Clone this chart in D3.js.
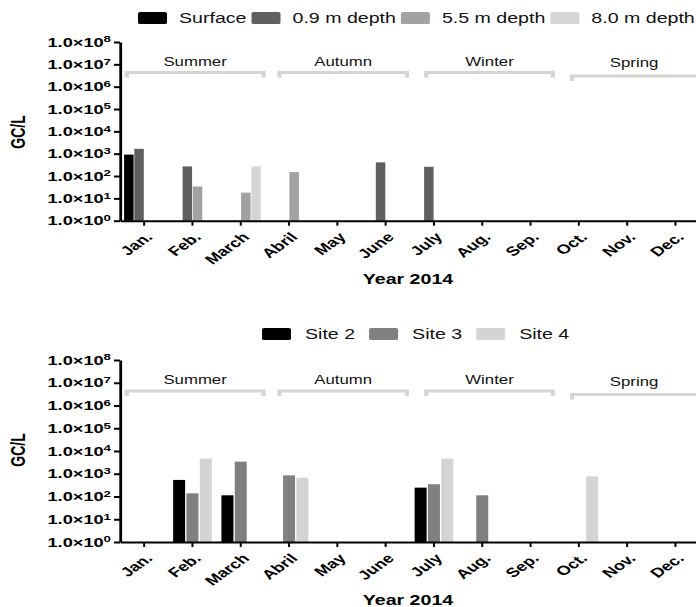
<!DOCTYPE html>
<html>
<head>
<meta charset="utf-8">
<script src="https://cdn.jsdelivr.net/npm/d3@7"></script>
<style>
  html, body { margin: 0; padding: 0; background: #fff; }
  svg { display: block; font-family: "Liberation Sans", Arial, sans-serif; }
</style>
</head>
<body>
<div id="chart"></div>
<script>
const months = ["Jan.", "Feb.", "March", "Abril", "May", "June", "July", "Aug.", "Sep.", "Oct.", "Nov.", "Dec."];
const seasons = ["Summer", "Autumn", "Winter", "Spring"];
// bracket extent of each season, in month units (0 = left edge of Jan.)
const seasonStart = [0.14, 3.30, 6.34, 9.36];
const seasonEnd = [2.97, 5.94, 8.96, 12.5];
const yTicks = [1, 1e1, 1e2, 1e3, 1e4, 1e5, 1e6, 1e7, 1e8];

// top panel: depths
const depthSeries = ["Surface", "0.9 m depth", "5.5 m depth", "8.0 m depth"];
const depthColors = ["#000000", "#606060", "#a2a2a5", "#d5d5d5"];
const surface   = [910, null, null, null, null, null, null, null, null, null, null, null];
const depth09   = [1650, 270, null, null, null, 410, 260, null, null, null, null, null];
const depth55   = [null, 34, 18, 150, null, null, null, null, null, null, null, null];
const depth80   = [null, null, 270, null, null, null, null, null, null, null, null, null];

// bottom panel: sites
const siteSeries = ["Site 2", "Site 3", "Site 4"];
const siteColors = ["#000000", "#808080", "#d4d4d4"];
const site2 = [null, 535, 113, null, null, null, 245, null, null, null, null, null];
const site3 = [null, 138, 3400, 850, null, null, 345, 113, null, null, null, null];
const site4 = [null, 4600, null, 670, null, null, 4600, null, null, 770, null, null];

const width = 696;
const height = 607;
const K = 1.4; // the figure is stretched horizontally
const W = width / K;

const svg = d3.select("#chart")
    .append("svg")
    .attr("width", width)
    .attr("height", height)
    .attr("viewBox", `0 0 ${W} ${height}`)
    .attr("preserveAspectRatio", "none");

const drawPanel = (cfg) => {
    const g = svg.append("g");
    const values = cfg.values;

    const x = d3.scaleBand()
        .domain(months)
        .range([120 / K, 699.6 / K]);
    const step = x.step();
    const x1 = d3.scaleBand()
        .domain(cfg.series)
        .range([step * (1 - cfg.groupFrac) / 2, step * (1 + cfg.groupFrac) / 2])
        .paddingInner(cfg.barGap);
    const y = d3.scaleLog()
        .domain([1, 1e8])
        .range([cfg.bottom, cfg.top]);
    const monthPos = d3.scaleLinear().domain([0, 12]).range(x.range());

    // legend
    const legend = g.append("g").attr("transform", `translate(${cfg.legendX / K}, ${cfg.legendY})`);
    let lx = 0;
    cfg.series.forEach((s, i) => {
        legend.append("rect")
            .attr("x", lx)
            .attr("y", -6)
            .attr("width", 29 / K)
            .attr("height", 12)
            .attr("rx", 1.5)
            .attr("fill", cfg.colors[i]);
        const t = legend.append("text")
            .attr("x", lx + cfg.textOffset / K)
            .attr("y", 0)
            .attr("dy", "0.35em")
            .attr("font-size", 14)
            .attr("fill", "#111")
            .text(s);
        lx += cfg.textOffset / K + t.node().getComputedTextLength() + cfg.itemGap / K;
    });

    // season brackets
    seasons.forEach((s, i) => {
        const x0 = monthPos(seasonStart[i]);
        const xe = monthPos(seasonEnd[i]);
        const drop = i === 3 ? 3.5 : 0;
        const by = cfg.bracketY + drop;
        g.append("path")
            .attr("d", `M${x0},${by + 5}V${by}H${xe}V${by + 5}`)
            .attr("fill", "none")
            .attr("stroke", "#d4d4d4")
            .attr("stroke-width", 3);
        const visEnd = Math.min(xe, W);
        g.append("text")
            .attr("x", (x0 + visEnd) / 2)
            .attr("y", by - 6.5 - drop * 0.6)
            .attr("text-anchor", "middle")
            .attr("font-size", 12)
            .attr("fill", "#111")
            .text(s);
    });

    // bars
    cfg.series.forEach((s, si) => {
        const rows = months.map((m, mi) => ({m, v: values[si][mi]})).filter(d => d.v != null);
        g.selectAll(null)
            .data(rows)
            .join("rect")
            .attr("x", d => x(d.m) + x1(s))
            .attr("y", d => y(d.v))
            .attr("width", x1.bandwidth())
            .attr("height", d => y(1) - y(d.v))
            .attr("fill", cfg.colors[si]);
    });

    // y axis
    const yAxis = g.append("g")
        .attr("transform", `translate(${120 / K}, 0)`)
        .call(d3.axisLeft(y).tickValues(yTicks).tickSize(6 / K).tickSizeOuter(0));
    yAxis.select(".domain").attr("stroke-width", 2).attr("stroke", "#000");
    yAxis.selectAll(".tick line").attr("stroke-width", 2);
    yAxis.selectAll(".tick text")
        .attr("font-size", 13)
        .attr("font-weight", "bold")
        .attr("font-family", "'Liberation Sans', Arial, sans-serif")
        .attr("fill", "#000")
        .attr("x", -9 / K)
        .text("1.0×10")
        .each(function (d) {
            d3.select(this).append("tspan")
                .attr("dy", "-0.45em")
                .attr("font-size", 9.5)
                .text(Math.round(Math.log10(d)));
        });

    // x axis
    const xAxis = g.append("g")
        .attr("transform", `translate(0, ${y(1)})`)
        .call(d3.axisBottom(x).tickSize(5).tickSizeOuter(0));
    xAxis.select(".domain").attr("stroke-width", 2).attr("stroke", "#000");
    xAxis.selectAll(".tick line").attr("stroke-width", 2 / K);
    xAxis.selectAll(".tick text")
        .attr("font-size", 13)
        .attr("font-weight", "bold")
        .attr("font-family", "'Liberation Sans', Arial, sans-serif")
        .attr("fill", "#000")
        .attr("text-anchor", "end")
        .attr("y", 0)
        .attr("dy", "0.35em")
        .attr("transform", `translate(${5 / K}, 14) rotate(-45)`);

    // axis titles
    g.append("text")
        .attr("x", 408 / K)
        .attr("y", y(1) + 58)
        .attr("dy", "0.35em")
        .attr("text-anchor", "middle")
        .attr("font-size", 14)
        .attr("font-weight", "bold")
        .text("Year 2014");

    g.append("text")
        .attr("transform", `translate(${18 / K}, ${cfg.labelY}) rotate(-90)`)
        .attr("dy", "0.35em")
        .attr("text-anchor", "middle")
        .attr("font-size", 14)
        .attr("font-weight", "bold")
        .text("GC/L");
};

drawPanel({
    series: depthSeries,
    colors: depthColors,
    values: [surface, depth09, depth55, depth80],
    top: 42,
    bottom: 220.7,
    groupFrac: 0.83,
    barGap: 0.07,
    legendX: 138,
    legendY: 18,
    textOffset: 41,
    itemGap: 5,
    bracketY: 72.5,
    labelY: 132
});

drawPanel({
    series: siteSeries,
    colors: siteColors,
    values: [site2, site3, site4],
    top: 360,
    bottom: 542,
    groupFrac: 0.8,
    barGap: 0.1,
    legendX: 262,
    legendY: 334,
    textOffset: 43,
    itemGap: 14,
    bracketY: 391,
    labelY: 450
});
</script>
</body>
</html>
